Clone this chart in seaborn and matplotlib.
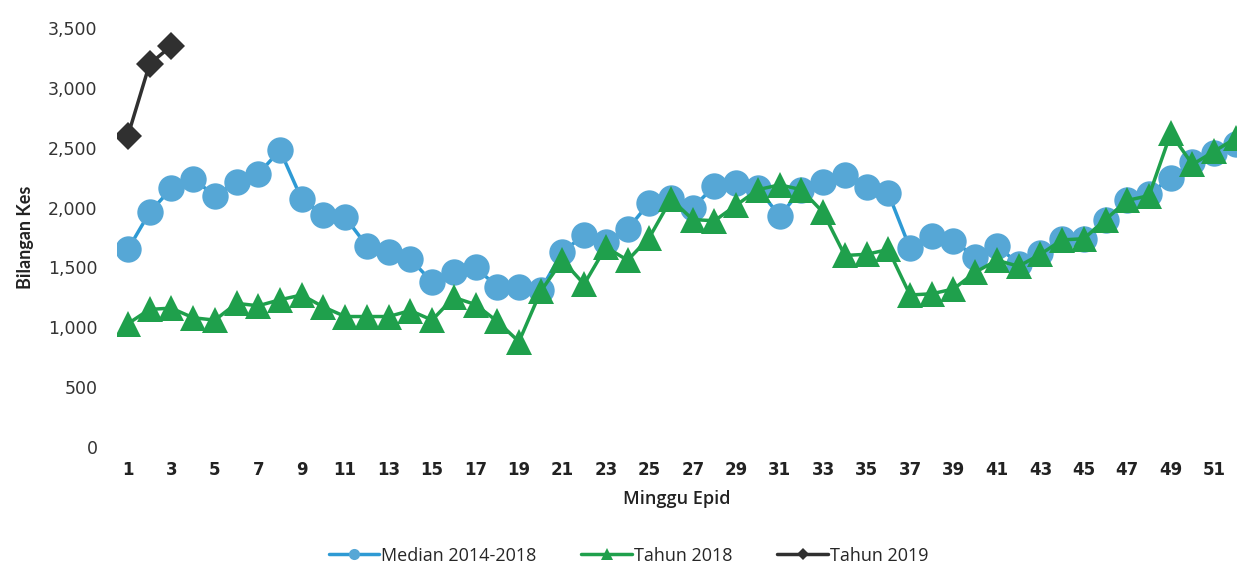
import matplotlib
matplotlib.use("Agg")
import matplotlib.pyplot as plt
import seaborn as sns
import pandas as pd
import numpy as np
from matplotlib.lines import Line2D

weeks = list(range(1, 53))
median_2014_2018 = [1650, 1960, 2160, 2240, 2100, 2210, 2280, 2480, 2070, 1940,
                    1920, 1680, 1630, 1570, 1380, 1460, 1500, 1340, 1340, 1310,
                    1630, 1770, 1710, 1820, 2040, 2080, 2000, 2180, 2205, 2160,
                    1930, 2150, 2210, 2270, 2170, 2120, 1660, 1760, 1720, 1590,
                    1680, 1530, 1620, 1740, 1740, 1900, 2060, 2110, 2250, 2380,
                    2460, 2530]
tahun_2018 = [1030, 1150, 1160, 1080, 1060, 1200, 1180, 1230, 1270, 1170,
              1090, 1090, 1090, 1140, 1060, 1250, 1190, 1050, 880, 1300,
              1560, 1360, 1670, 1560, 1750, 2070, 1900, 1890, 2020, 2150,
              2190, 2150, 1960, 1600, 1610, 1650, 1270, 1280, 1320, 1460,
              1560, 1510, 1610, 1730, 1740, 1900, 2060, 2100, 2620, 2360,
              2470, 2580]
weeks_2019 = [1, 2, 3]
tahun_2019 = [2600, 3200, 3350]
series_names = ["Median 2014-2018", "Tahun 2018", "Tahun 2019"]
xtick_labels = [str(w) for w in range(1, 52, 2)]
yticks = [0, 500, 1000, 1500, 2000, 2500, 3000, 3500]

sns.set_theme(style="white")
plt.rcParams['font.family'] = ['DejaVu Sans']

fig = plt.figure(figsize=(12.37, 5.66), dpi=100)
ax = fig.add_axes([0.0946, 0.2102, 0.9054, 0.7403])

df_med = pd.DataFrame({"week": weeks, "value": median_2014_2018})
df_18 = pd.DataFrame({"week": weeks, "value": tahun_2018})
df_19 = pd.DataFrame({"week": weeks_2019, "value": tahun_2019})

blue_line = "#2E9AD4"
blue_mark = "#56A7D6"
green = "#1FA04C"
black = "#303030"

sns.lineplot(data=df_med, x="week", y="value", ax=ax, color=blue_line, lw=2.5,
             marker="o", markersize=19, markerfacecolor=blue_mark,
             markeredgecolor=blue_mark, markeredgewidth=0, zorder=2)
sns.lineplot(data=df_18, x="week", y="value", ax=ax, color=green, lw=2.5,
             marker="^", markersize=19, markerfacecolor=green,
             markeredgecolor=green, markeredgewidth=0, zorder=3)
sns.lineplot(data=df_19, x="week", y="value", ax=ax, color=black, lw=2.5,
             marker="D", markersize=14, markerfacecolor=black,
             markeredgecolor=black, markeredgewidth=0, zorder=4)

ax.set_xlim(0.5, 52.05)
ax.set_ylim(0, 3500)
ax.set_yticks(yticks)
ax.set_yticklabels([f"{v:,}" for v in yticks], fontsize=12.5, color="#333333")
ax.set_xticks(list(range(1, 52, 2)))
ax.set_xticklabels(xtick_labels, fontsize=12, color="#222222", fontweight="bold")
ax.tick_params(axis="x", pad=10, length=0)
ax.tick_params(axis="y", pad=14, length=0)
for s in ax.spines.values():
    s.set_visible(False)

ax.set_xlabel("Minggu Epid", fontsize=13, color="#222222", labelpad=8,
              fontfamily="Open Sans", fontweight="semibold")
ax.set_ylabel("Bilangan Kes", fontsize=13, color="#222222", labelpad=10,
              fontfamily="Lato", fontweight="bold")

handles = [
    Line2D([], [], color=blue_line, lw=2.5, marker="o", markersize=8,
           markerfacecolor=blue_mark, markeredgewidth=0),
    Line2D([], [], color=green, lw=2.5, marker="^", markersize=9,
           markerfacecolor=green, markeredgewidth=0),
    Line2D([], [], color=black, lw=2.5, marker="D", markersize=6,
           markerfacecolor=black, markeredgewidth=0),
]
fig.legend(handles, series_names, loc="center", bbox_to_anchor=(0.508, 0.018),
           ncol=3, frameon=False, handlelength=2.8, handletextpad=0.1,
           columnspacing=2.5, prop={"family": "Open Sans", "size": 13})

fig.savefig("out.png", dpi=100)
